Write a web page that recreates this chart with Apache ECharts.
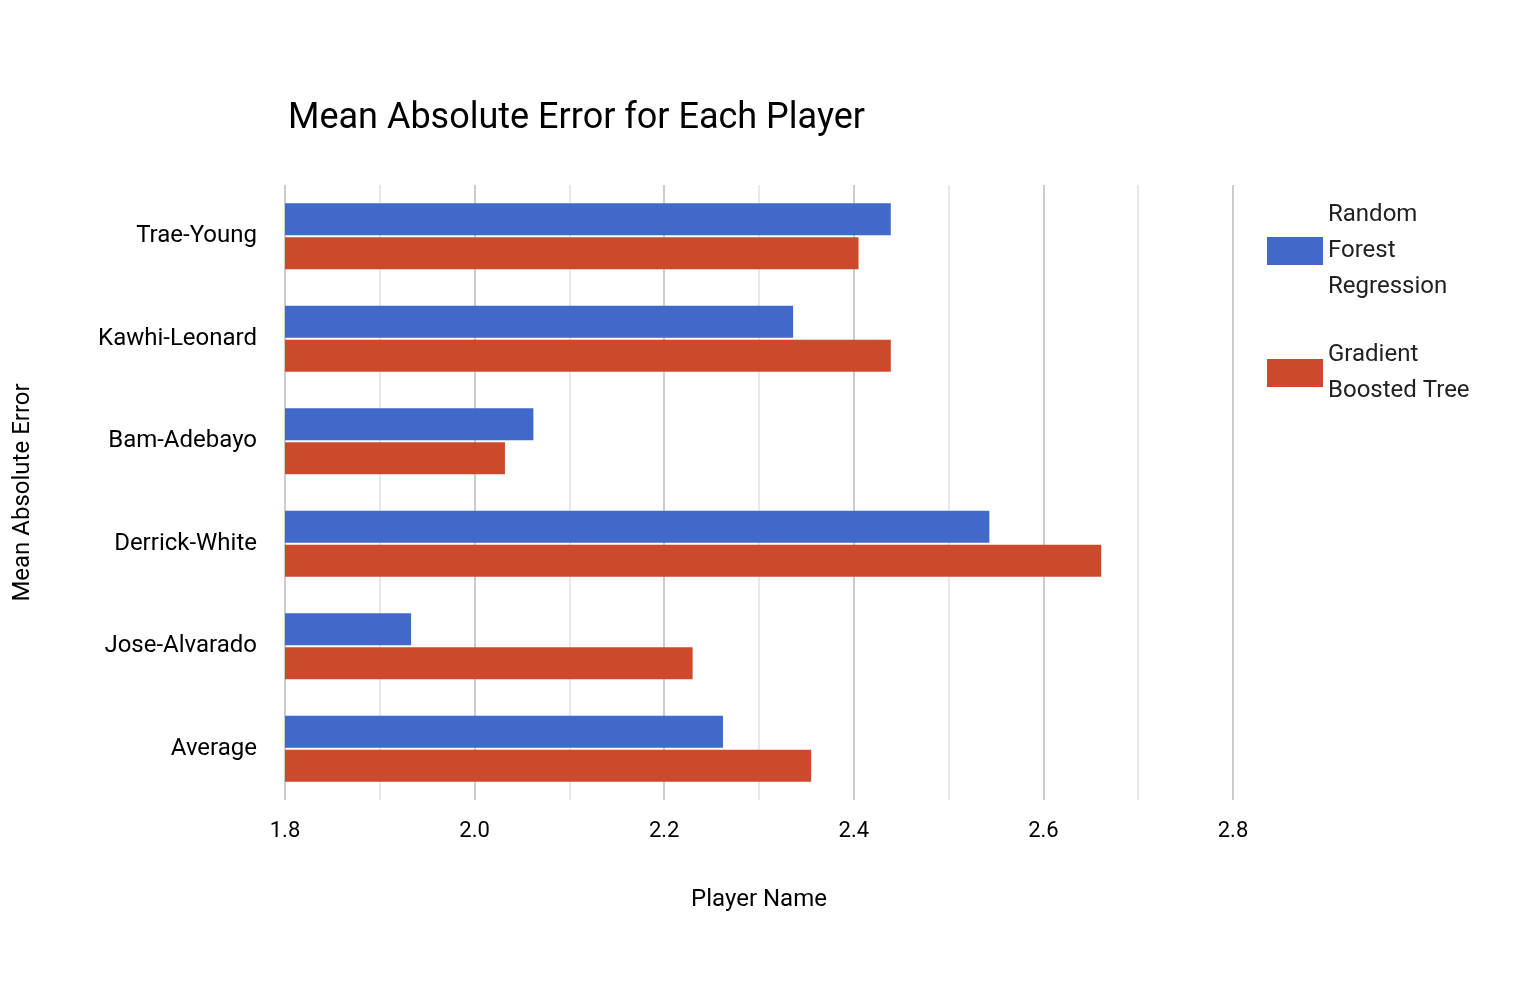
<!DOCTYPE html>
<html><head><meta charset="utf-8">
<script src="https://cdn.jsdelivr.net/npm/echarts@6/dist/echarts.min.js"></script>
<style>html,body{margin:0;padding:0;background:#fff}#c{width:1514px;height:988px}</style>
</head><body><div id="c"></div>
<script>
const categories = ['Trae-Young','Kawhi-Leonard','Bam-Adebayo','Derrick-White','Jose-Alvarado','Average'];
const randomForest = [2.439, 2.336, 2.062, 2.543, 1.933, 2.262];
const gradientBoosted = [2.405, 2.439, 2.032, 2.661, 2.230, 2.355];
const seriesNames = ['Random\nForest\nRegression','Gradient\nBoosted Tree'];
const chart = echarts.init(document.getElementById('c'));
const font = 'Roboto, Arial, sans-serif';
chart.setOption({
  textStyle:{fontFamily:font},
  title:{text:'Mean Absolute Error for Each Player',left:283,top:96,textStyle:{fontFamily:font,fontSize:36,fontWeight:'normal',color:'#000'}},
  legend:{orient:'vertical',left:1262,top:184,itemWidth:56,itemHeight:28,itemGap:16,icon:'rect',
    textStyle:{fontFamily:font,fontSize:24,color:'#222',lineHeight:36,padding:[16,0,0,0]}},
  grid:{left:285,right:1514-1233,top:185,bottom:988-800,containLabel:false},
  xAxis:{type:'value',min:1.8,max:2.8,interval:0.1,
    name:'Player Name',nameLocation:'middle',nameGap:88,nameTextStyle:{fontSize:24,color:'#000',fontFamily:font},
    axisLine:{show:false},axisTick:{show:false},
    axisLabel:{fontSize:22,color:'#000',margin:20,formatter:v=>{const k=Math.round(v*10);return k%2===0?(k/10).toFixed(1):'';}},
    splitLine:{lineStyle:{color:['#cccccc','#e8e8e8'],width:2}}},
  yAxis:{type:'category',data:categories,inverse:true,
    name:'Mean Absolute Error',nameLocation:'middle',nameGap:250,nameTextStyle:{fontSize:24,color:'#000',fontFamily:font},
    axisLine:{show:false},axisTick:{show:false},axisLabel:{fontSize:24,color:'#000',margin:28}},
  series:[
    {name:seriesNames[0],type:'bar',data:randomForest,itemStyle:{color:'#4169c9'},barWidth:32,barGap:'6%'},
    {name:seriesNames[1],type:'bar',data:gradientBoosted,itemStyle:{color:'#cc4a2b'},barWidth:32,barGap:'6%'}
  ]
});
</script></body></html>
